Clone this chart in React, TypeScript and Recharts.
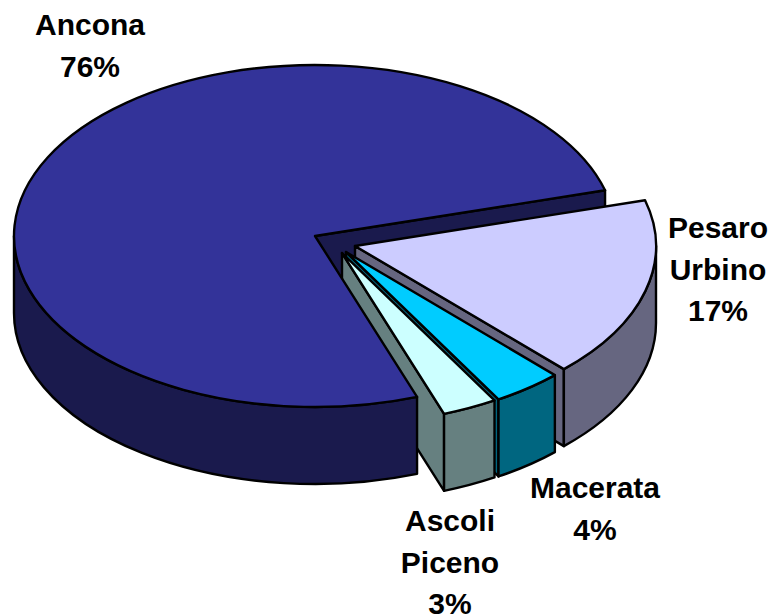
import React from "react";
import { PieChart, Pie } from "recharts";

const CATEGORIES = ["Pesaro Urbino", "Macerata", "Ascoli Piceno", "Ancona"];
const VALUES = [17.1, 3.75, 2.95, 76.2];

const TOP_FILLS = ["#CCCCFF", "#00CCFF", "#CCFFFF", "#333399"];
const WALL_FILLS = ["#666680", "#006680", "#668080", "#1A1A4D"];
const OFFSETS = [[40, 10], [31, 16], [27, 17], [0, 0]];
const LABEL_X = [718, 595, 450, 90];
const LABEL_Y = [238, 498, 531, 35];

const CX = 315;
const CY = 236;
const RX = 301;
const RY = 171;
const DEPTH = 77;
const START = 15.5;
const STROKE = "#000";
const SW = 2.4;

const data = CATEGORIES.map((name, i) => ({ name, value: VALUES[i] }));
const total = VALUES.reduce((a, b) => a + b, 0);

const pt = (i: number, deg: number, dy = 0) => {
  const r = (deg * Math.PI) / 180;
  return [CX + OFFSETS[i][0] + RX * Math.cos(r), CY + OFFSETS[i][1] + dy - RY * Math.sin(r)];
};

const endWall = (i: number, deg: number) => {
  const apex = [CX + OFFSETS[i][0], CY + OFFSETS[i][1]];
  const p = pt(i, deg);
  return `M${apex[0]},${apex[1]} L${p[0]},${p[1]} L${p[0]},${p[1] + DEPTH} L${apex[0]},${apex[1] + DEPTH} Z`;
};

const idx = (props: any) => CATEGORIES.indexOf(props.payload?.name ?? props.name);

function BackSector(props: any) {
  const i = idx(props);
  if (CATEGORIES[i] !== "Ancona") return <g />;
  return <path d={endWall(i, props.endAngle)} fill={WALL_FILLS[i]} stroke={STROKE} strokeWidth={SW} strokeLinejoin="round" />;
}

function FrontSector(props: any) {
  const i = idx(props);
  const hi = Math.max(props.startAngle, props.endAngle);
  const lo = Math.min(props.startAngle, props.endAngle);
  const isMain = CATEGORIES[i] === "Ancona";
  const apex = [CX + OFFSETS[i][0], CY + OFFSETS[i][1]];
  const a = pt(i, hi);
  const b = pt(i, lo);
  const large = hi - lo > 180 ? 1 : 0;
  const top = `M${apex[0]},${apex[1]} L${a[0]},${a[1]} A${RX},${RY} 0 ${large} 1 ${b[0]},${b[1]} Z`;
  const wHi = Math.min(hi, 0);
  const wLo = Math.max(lo, -180);
  let outer = "";
  if (wHi > wLo) {
    const p = pt(i, wHi);
    const q = pt(i, wLo);
    outer = `M${p[0]},${p[1]} A${RX},${RY} 0 0 1 ${q[0]},${q[1]} L${q[0]},${q[1] + DEPTH} A${RX},${RY} 0 0 0 ${p[0]},${p[1] + DEPTH} Z`;
  }
  return (
    <g>
      {!isMain && <path d={endWall(i, lo)} fill={WALL_FILLS[i]} stroke={STROKE} strokeWidth={SW} strokeLinejoin="round" />}
      {outer && <path d={outer} fill={WALL_FILLS[i]} stroke={STROKE} strokeWidth={SW} strokeLinejoin="round" />}
      <path d={top} fill={TOP_FILLS[i]} stroke={STROKE} strokeWidth={SW} strokeLinejoin="round" />
    </g>
  );
}

function renderLabel(props: any) {
  const i = idx(props);
  const lines = [...CATEGORIES[i].split(" "), `${Math.round((VALUES[i] / total) * 100)}%`];
  return (
    <text
      key={CATEGORIES[i]}
      x={LABEL_X[i]}
      y={LABEL_Y[i]}
      textAnchor="middle"
      fontFamily="'Liberation Sans', Arial, sans-serif"
      fontWeight="bold"
      fontSize={30}
      fill="#000"
    >
      {lines.map((l, k) => (
        <tspan key={k} x={LABEL_X[i]} y={LABEL_Y[i] + k * 41.5}>
          {l}
        </tspan>
      ))}
    </text>
  );
}

export default function App() {
  return (
    <div style={{ position: "absolute", left: 0, top: 0, width: 773, height: 616, background: "#fff" }}>
      <PieChart width={773} height={616} margin={{ top: 0, right: 0, bottom: 0, left: 0 }}>
        <Pie
          data={data}
          dataKey="value"
          nameKey="name"
          cx={CX}
          cy={CY}
          innerRadius={0}
          outerRadius={RX}
          startAngle={START}
          endAngle={START - 360}
          paddingAngle={0}
          isAnimationActive={false}
          shape={BackSector as any}
          inactiveShape={BackSector as any}
          label={false}
          labelLine={false}
        />
        <Pie
          data={data}
          dataKey="value"
          nameKey="name"
          cx={CX}
          cy={CY}
          innerRadius={0}
          outerRadius={RX}
          startAngle={START}
          endAngle={START - 360}
          paddingAngle={0}
          isAnimationActive={false}
          shape={FrontSector as any}
          inactiveShape={FrontSector as any}
          label={renderLabel as any}
          labelLine={false}
        />
      </PieChart>
    </div>
  );
}
